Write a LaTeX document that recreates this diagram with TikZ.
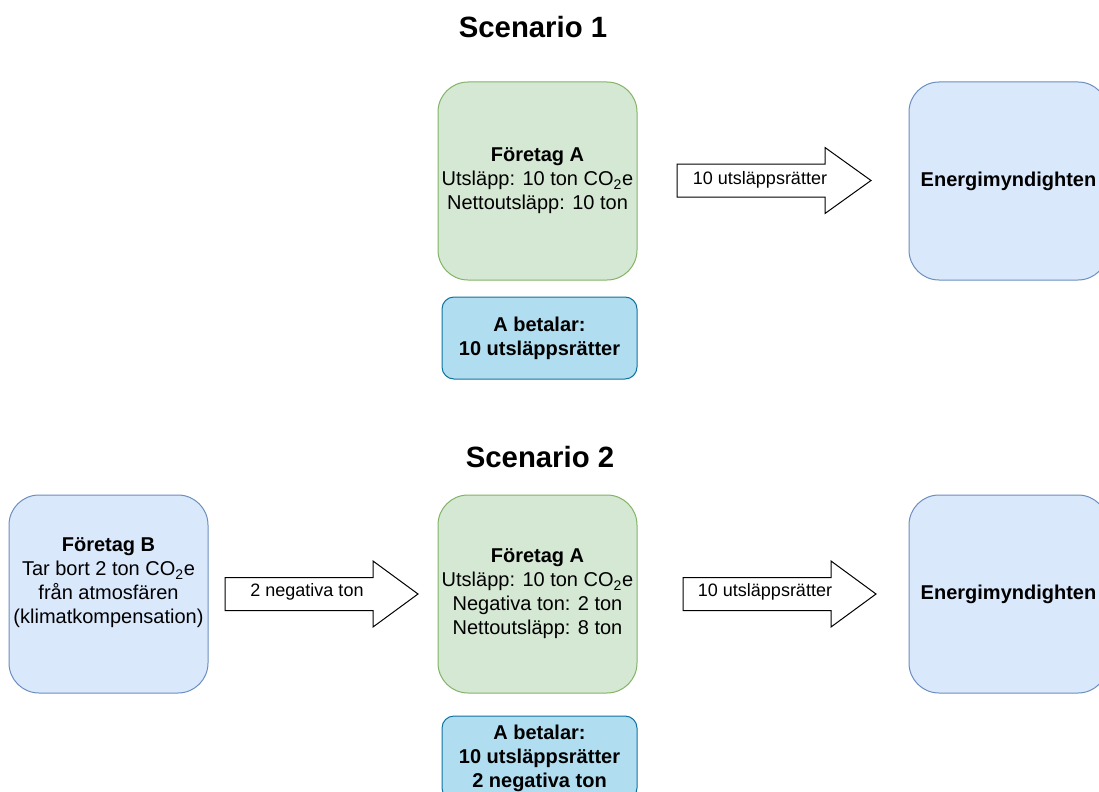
\documentclass[tikz,border=0pt]{standalone}
\usepackage{fontspec}
\setmainfont{Liberation Sans}
\usetikzlibrary{calc}
\definecolor{grnf}{HTML}{D5E8D4}
\definecolor{grnd}{HTML}{82B366}
\definecolor{bluf}{HTML}{DAE8FC}
\definecolor{blud}{HTML}{6C8EBF}
\definecolor{payf}{HTML}{B1DDF0}
\definecolor{payd}{HTML}{10739E}
\tikzset{%
    box/.style={rectangle, rounded corners=22.5pt, minimum width=149.25pt, minimum height=148.5pt,
        line width=0.75pt, align=center, inner sep=0pt, font=\fontsize{15}{18}\selectfont},
    grn/.style={box, fill=grnf, draw=grnd},
    blu/.style={box, fill=bluf, draw=blud},
    txt/.style={align=center, inner sep=0pt, font=\fontsize{15}{18}\selectfont},
    pay/.style={rectangle, rounded corners=9pt, minimum width=146.25pt, line width=0.75pt,
        fill=payf, draw=payd, align=center, inner sep=0pt, font=\fontsize{15}{18}\selectfont\bfseries},
    pil/.style={draw=black, fill=white, line width=0.75pt, line join=miter},
    pilt/.style={inner sep=0pt, font=\fontsize{13.5}{16}\selectfont},
    ttl/.style={inner sep=0pt, font=\fontsize{22}{26}\selectfont\bfseries},
}

\begin{document}
\begin{tikzpicture}[x=0.75pt,y=-0.75pt]
    \useasboundingbox (0,0) rectangle (1099,792);
    \clip (0,0) rectangle (1099,792);
    % scenario 1
    \node[ttl] (t1) at (533,27) {Scenario 1};
    \node[grn] (a1) at (537.5,181) {\textbf{Företag A}\\Utsläpp: 10 ton CO\textsubscript{2}e\\Nettoutsläpp: 10 ton};
    \node[blu] (e1) at (1008.5,181) {\textbf{Energimyndighten}};
    \node[pay, minimum height=61.5pt] (b1) at (539.5,338) {A betalar:\\10 utsläppsrätter};
    \coordinate (s1) at (677,180.5);
    \coordinate (h1) at (871,180.5);
    \draw[pil] (s1) ++(0,-16.5) -- ++(148,0) -- ++(0,-16.5) -- (h1) -- ++(-46,33) -- ++(0,-16.5) -- ++(-148,0) -- cycle;
    \node[pilt] (l1) at (760,180) {10 utsläppsrätter};
    % scenario 2
    \node[ttl] (t2) at (540,457) {Scenario 2};
    \node[blu] (fb) at (108.5,594) {};
    \node[txt] (fbt) at (108.5,583) {\textbf{Företag B}\\Tar bort 2 ton CO\textsubscript{2}e\\från atmosfären\\(klimatkompensation)};
    \node[grn] (a2) at (537.5,594) {\textbf{Företag A}\\Utsläpp: 10 ton CO\textsubscript{2}e\\Negativa ton: 2 ton\\Nettoutsläpp: 8 ton};
    \node[blu] (e2) at (1008.5,594) {\textbf{Energimyndighten}};
    \node[pay, minimum height=63pt] (b2) at (539.5,758) {A betalar:\\10 utsläppsrätter\\2 negativa ton};
    \coordinate (s2) at (225,594);
    \coordinate (h2) at (418,594);
    \draw[pil] (s2) ++(0,-16.5) -- ++(148,0) -- ++(0,-16.5) -- (h2) -- ++(-45,33) -- ++(0,-16.5) -- ++(-148,0) -- cycle;
    \node[pilt] (l2) at (307,592) {2 negativa ton};
    \coordinate (s3) at (683,594);
    \coordinate (h3) at (876,594);
    \draw[pil] (s3) ++(0,-16.5) -- ++(148,0) -- ++(0,-16.5) -- (h3) -- ++(-45,33) -- ++(0,-16.5) -- ++(-148,0) -- cycle;
    \node[pilt] (l3) at (765,592) {10 utsläppsrätter};
\end{tikzpicture}
\end{document}
